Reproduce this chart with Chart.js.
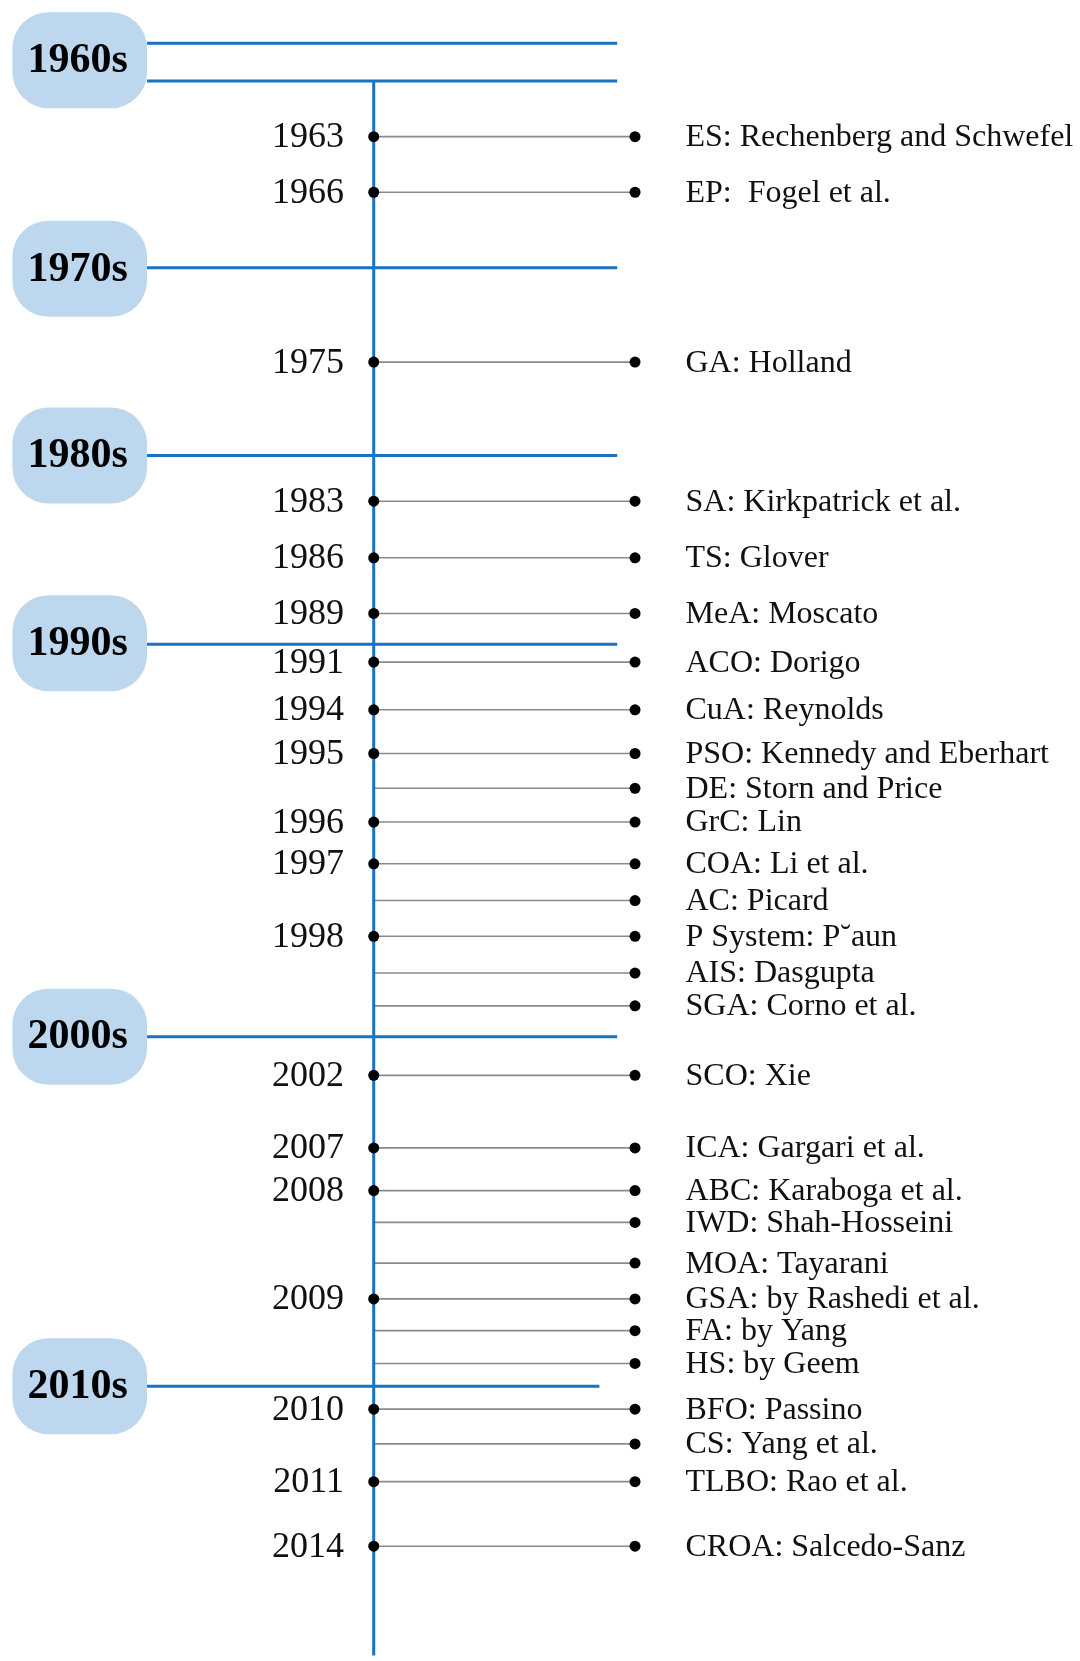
<!DOCTYPE html>
<html>
<head>
<meta charset="utf-8">
<script src="https://cdn.jsdelivr.net/npm/chart.js@4"></script>
<style>
  body { margin: 0; background: #fff; }
  #wrap { width: 1080px; height: 1661px; position: relative; }
</style>
</head>
<body>
<div id="wrap"><canvas id="timelineChart"></canvas></div>
<script>
// decades (pill label + where its horizontal rule sits on the timeline)
var decades = ['1960s', '1970s', '1980s', '1990s', '2000s', '2010s'];
var decadePos = [55, 265, 453, 642, 1038, 1390];
var decadeRules = [[38, 76], [264], [453], [643], [1038], [1390]];

// algorithms, in timeline order
var methods = ['ES: Rechenberg and Schwefel', 'EP:  Fogel et al.', 'GA: Holland', 'SA: Kirkpatrick et al.',
  'TS: Glover', 'MeA: Moscato', 'ACO: Dorigo', 'CuA: Reynolds', 'PSO: Kennedy and Eberhart',
  'DE: Storn and Price', 'GrC: Lin', 'COA: Li et al.', 'AC: Picard', 'P System: P\u02D8aun',
  'AIS: Dasgupta', 'SGA: Corno et al.', 'SCO: Xie', 'ICA: Gargari et al.', 'ABC: Karaboga et al.',
  'IWD: Shah-Hosseini', 'MOA: Tayarani', 'GSA: by Rashedi et al.', 'FA: by Yang', 'HS: by Geem',
  'BFO: Passino', 'CS: Yang et al.', 'TLBO: Rao et al.', 'CROA: Salcedo-Sanz'];
var years = ['1963', '1966', '1975', '1983', '1986', '1989', '1991', '1994', '1995', '',
  '1996', '1997', '', '1998', '', '', '2002', '2007', '2008', '', '', '2009', '', '',
  '2010', '', '2011', '2014'];
var rowPos = [132, 188, 359, 499, 556, 612, 661, 709, 753, 788, 822, 864, 901, 937, 974, 1007,
  1077, 1150, 1193, 1225, 1266, 1302, 1334, 1367, 1413, 1448, 1486, 1551];

var BLUE = '#1a72c2';
var PILL = '#bdd7ee';
var stemX = 372, endX = 636, ruleStart = 143;

var ruleData = [];
decadeRules.forEach(function (ys, i) {
  var ruleEnd = i === decades.length - 1 ? 600 : 618;
  ys.forEach(function (y) {
    ruleData.push({x: ruleStart, y: y}, {x: ruleEnd, y: y}, {x: NaN, y: NaN});
  });
});

var linkData = [];
rowPos.forEach(function (y) {
  linkData.push({x: stemX, y: y}, {x: endX, y: y}, {x: NaN, y: NaN});
});
var endDots = rowPos.map(function (y) { return {x: endX, y: y}; });
var stemDots = [];
rowPos.forEach(function (y, i) { if (years[i]) stemDots.push({x: stemX, y: y}); });

var labelsPlugin = {
  id: 'labels',
  beforeDatasetsDraw: function (chart) {
    var ctx = chart.ctx, xs = chart.scales.x, ys = chart.scales.y;
    ctx.save();
    ctx.fillStyle = PILL;
    decadePos.forEach(function (p) {
      var cy = ys.getPixelForValue(p);
      ctx.beginPath();
      ctx.roundRect(xs.getPixelForValue(7), cy - 48, xs.getPixelForValue(143) - xs.getPixelForValue(7), 96, 36);
      ctx.fill();
    });
    ctx.restore();
  },
  afterDatasetsDraw: function (chart) {
    var ctx = chart.ctx, xs = chart.scales.x, ys = chart.scales.y;
    ctx.save();
    ctx.textBaseline = 'middle';
    ctx.fillStyle = '#000';
    ctx.textAlign = 'center';
    ctx.font = 'bold 42px "Liberation Serif"';
    decades.forEach(function (d, i) {
      ctx.fillText(d, xs.getPixelForValue(73), ys.getPixelForValue(decadePos[i]) + 1);
    });
    ctx.fillStyle = '#111';
    ctx.textAlign = 'right';
    ctx.font = '36px "Liberation Serif"';
    years.forEach(function (yr, i) {
      if (yr) ctx.fillText(yr, xs.getPixelForValue(342), ys.getPixelForValue(rowPos[i]) + 1);
    });
    ctx.textAlign = 'left';
    ctx.font = '32px "Liberation Serif"';
    methods.forEach(function (m, i) {
      ctx.fillText(m, xs.getPixelForValue(687), ys.getPixelForValue(rowPos[i]) + 1);
    });
    ctx.restore();
  }
};

var ctxT = document.getElementById('timelineChart').getContext('2d');
var timeline = new Chart(ctxT, {
  type: 'scatter',
  data: {
    datasets: [
      {
        label: 'stem dots', data: stemDots, order: 0,
        pointRadius: 5.5, pointBackgroundColor: '#000', pointBorderWidth: 0, showLine: false, clip: false
      },
      {
        label: 'end dots', data: endDots, order: 1,
        pointRadius: 5.5, pointBackgroundColor: '#000', pointBorderWidth: 0, showLine: false, clip: false
      },
      {
        label: 'spine', data: [{x: stemX, y: 76}, {x: stemX, y: 1661}], order: 2,
        showLine: true, borderColor: BLUE, borderWidth: 3, pointRadius: 0, clip: false
      },
      {
        label: 'decade rules', data: ruleData, order: 3,
        showLine: true, spanGaps: false, borderColor: BLUE, borderWidth: 3, pointRadius: 0, clip: false
      },
      {
        label: 'links', data: linkData, order: 4,
        showLine: true, spanGaps: false, borderColor: '#8a8a8a', borderWidth: 1.6, pointRadius: 0, clip: false
      }
    ]
  },
  options: {
    responsive: true,
    maintainAspectRatio: false,
    animation: false,
    layout: { padding: 0 },
    plugins: { legend: { display: false }, tooltip: { enabled: false } },
    scales: {
      x: { type: 'linear', min: 0, max: 1080, display: false },
      y: { type: 'linear', min: 0, max: 1661, reverse: true, display: false }
    }
  },
  plugins: [labelsPlugin]
});
</script>
</body>
</html>
